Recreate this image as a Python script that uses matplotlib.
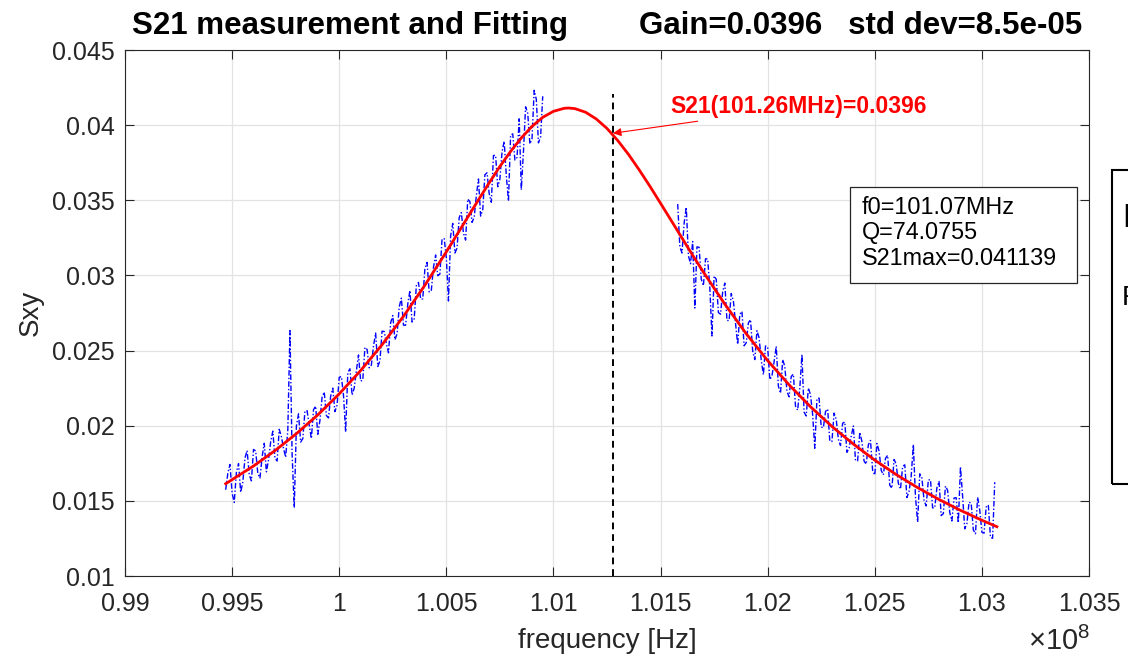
import numpy as np
import matplotlib
matplotlib.use("Agg")
import matplotlib.pyplot as plt
from matplotlib.patches import Rectangle

plt.rcParams['font.family'] = ['Liberation Sans', 'DejaVu Sans']
plt.rcParams['mathtext.fontset'] = 'custom'
plt.rcParams['mathtext.rm'] = 'Liberation Sans'

f_meas_left_start, f_meas_left_stop = 0.9947, 1.0095
f_meas_right_start, f_meas_right_stop = 1.0158, 1.0306
s_meas_left = [
    15.74, 16.83, 17.42, 15.51, 14.90, 16.89, 17.48, 15.57, 16.26, 17.85,
    18.35, 16.74, 16.33, 18.42, 18.32, 16.82, 16.52, 17.92, 18.83, 16.93,
    17.73, 18.93, 19.64, 17.84, 17.65, 19.76, 19.28, 18.49, 17.90, 19.71,
    26.33, 18.14, 14.55, 19.97, 20.79, 18.91, 19.14, 20.97, 21.00, 20.02,
    19.15, 21.07, 21.30, 19.43, 20.36, 21.90, 22.24, 20.68, 20.52, 21.96,
    22.50, 20.94, 21.38, 23.22, 23.27, 22.02, 19.58, 23.53, 23.79, 22.04,
    22.50, 23.65, 24.71, 22.97, 23.04, 25.21, 25.08, 23.85, 24.03, 25.30,
    26.17, 23.94, 24.31, 26.29, 26.27, 25.46, 24.85, 26.84, 27.33, 25.72,
    26.11, 27.90, 28.49, 26.69, 26.69, 28.09, 29.00, 26.90, 27.11, 29.32,
    29.53, 28.43, 28.44, 30.45, 30.87, 28.89, 29.02, 30.54, 31.36, 29.98,
    30.10, 32.42, 32.45, 31.17, 28.30, 32.63, 33.46, 31.49, 31.82, 33.85,
    34.18, 32.81, 32.35, 35.08, 34.91, 33.53, 33.86, 35.29, 36.42, 33.95,
    34.38, 36.70, 36.83, 35.45, 34.87, 37.98, 37.99, 35.90, 36.41, 38.22,
    38.93, 36.63, 34.94, 39.33, 39.42, 37.68, 37.85, 40.42, 35.69, 38.25,
    41.22, 40.78, 38.75, 39.08, 42.32, 41.72, 38.82, 39.22, 41.92,
]
s_meas_right = [
    34.75, 31.92, 31.49, 33.47, 34.54, 31.31, 30.78, 32.26, 27.83, 31.90,
    31.87, 29.75, 29.32, 31.11, 31.09, 29.18, 25.97, 29.96, 29.74, 27.53,
    27.42, 28.91, 29.49, 27.00, 27.00, 28.80, 28.30, 26.81, 25.41, 27.41,
    27.61, 25.32, 25.52, 26.84, 27.06, 24.98, 24.40, 26.33, 25.85, 24.37,
    23.39, 25.31, 25.23, 23.07, 23.31, 24.25, 25.29, 22.63, 22.16, 24.40,
    23.94, 22.28, 21.92, 23.28, 23.43, 21.29, 21.04, 22.49, 24.74, 20.90,
    20.65, 22.51, 22.06, 20.73, 18.50, 21.77, 21.84, 19.91, 19.87, 20.94,
    21.11, 18.98, 18.95, 20.84, 20.42, 19.10, 18.68, 20.17, 20.25, 18.23,
    18.51, 19.30, 19.98, 17.68, 17.67, 19.56, 18.95, 17.65, 17.44, 18.73,
    19.02, 17.02, 16.71, 18.82, 18.32, 17.03, 16.73, 17.83, 18.03, 16.04,
    15.84, 17.75, 17.45, 16.17, 15.78, 17.29, 17.40, 15.22, 15.63, 16.64,
    18.75, 15.27, 13.58, 16.80, 16.52, 15.04, 14.66, 16.39, 16.41, 14.53,
    14.55, 15.87, 16.29, 14.02, 14.15, 15.98, 15.70, 14.23, 13.66, 15.19,
    15.21, 13.54, 17.27, 15.31, 13.14, 13.48, 14.91, 14.84, 13.07, 12.81,
    15.24, 14.38, 12.91, 12.85, 14.59, 14.73, 12.57, 12.51, 16.24,
]

# Fitted curve
f_fit = [0.9947, 0.9960, 0.9970, 0.9980, 0.9990, 1.0000, 1.0010, 1.0020,
         1.0030, 1.0040, 1.0050, 1.0055, 1.0060, 1.0065, 1.0070, 1.0075,
         1.0080, 1.0085, 1.0090, 1.0095, 1.0100, 1.0105, 1.0107, 1.0110,
         1.0115, 1.0120, 1.0125, 1.0130, 1.0135, 1.0140, 1.0145, 1.0150,
         1.0155, 1.0160, 1.0165, 1.0170, 1.0180, 1.0190, 1.0200, 1.0210,
         1.0220, 1.0230, 1.0240, 1.0250, 1.0260, 1.0270, 1.0280, 1.0290,
         1.0300, 1.0307]
s_fit = [16.14, 17.32, 18.34, 19.47, 20.72, 22.12, 23.67, 25.39,
         27.28, 29.35, 31.57, 32.72, 33.88, 35.03, 36.16, 37.25,
         38.25, 39.15, 39.92, 40.52, 40.92, 41.12, 41.14, 41.10,
         40.86, 40.41, 39.78, 38.98, 38.06, 37.03, 35.94, 34.80,
         33.65, 32.49, 31.34, 30.22, 28.09, 26.12, 24.33, 22.72,
         21.26, 19.95, 18.78, 17.71, 16.75, 15.88, 15.09, 14.37,
         13.71, 13.28]

f_marker = 1.01278
marker_top = 0.0421
xticks = [0.99, 0.995, 1.0, 1.005, 1.01, 1.015, 1.02, 1.025, 1.03, 1.035]
xticklabels = ['0.99', '0.995', '1', '1.005', '1.01', '1.015', '1.02', '1.025', '1.03', '1.035']
yticks = [0.01, 0.015, 0.02, 0.025, 0.03, 0.035, 0.04, 0.045]
yticklabels = ['0.01', '0.015', '0.02', '0.025', '0.03', '0.035', '0.04', '0.045']
box_lines = ['f0=101.07MHz', 'Q=74.0755', 'S21max=0.041139']

W, H = 1128, 660
fig = plt.figure(figsize=(W / 100, H / 100), dpi=100)
ax = fig.add_axes([125 / W, 84 / H, 964 / W, 526 / H])

xl = np.linspace(f_meas_left_start, f_meas_left_stop, len(s_meas_left))
xr = np.linspace(f_meas_right_start, f_meas_right_stop, len(s_meas_right))
meas_style = dict(color='blue', ls=(0, (4, 1.5, 1, 1.5)), lw=1.0)
ax.plot(xl, np.array(s_meas_left) * 1e-3, **meas_style)
ax.plot(xr, np.array(s_meas_right) * 1e-3, **meas_style)
ax.plot(f_fit, np.array(s_fit) * 1e-3, color='red', lw=2.0)
ax.plot([f_marker, f_marker], [0.01, marker_top], color='black', ls=(0, (3.5, 2.5)), lw=1.4)

ax.annotate('S21(101.26MHz)=0.0396', xy=(f_marker, 0.03946), xytext=(1.01544, 0.04121),
            color='red', fontsize=16.5, fontweight='bold', ha='left', va='center',
            arrowprops=dict(arrowstyle='-|>', color='red', lw=0.8, mutation_scale=12,
                            shrinkA=0, shrinkB=0))

ax.set_xlim(0.99, 1.035)
ax.set_ylim(0.01, 0.045)
ax.set_xticks(xticks)
ax.set_xticklabels(xticklabels)
ax.set_yticks(yticks)
ax.set_yticklabels(yticklabels)
ax.tick_params(direction='in', length=6.5, width=0.8, labelsize=18, colors='#262626',
               top=True, right=True)
ax.tick_params(axis='x', pad=11.5)
ax.tick_params(axis='y', pad=7.5)
ax.grid(True, color='#e3e3e3', lw=0.9)
for sp in ax.spines.values():
    sp.set_color('#262626')
    sp.set_linewidth(0.8)
ax.set_xlabel('frequency [Hz]', fontsize=20, color='#262626', labelpad=9)
ax.set_ylabel('Sxy', fontsize=20, color='#262626', labelpad=6)

# parameter box
ax.add_patch(Rectangle((0.752, 0.557), 0.2356, 0.1825, transform=ax.transAxes,
                       facecolor='white', edgecolor='#262626', lw=0.9, zorder=5))
for k, line in enumerate(box_lines):
    fig.text(862 / W, 1 - (207 + 26 * k) / H, line, fontsize=16.8, ha='left', va='center',
             zorder=6)

# title
fig.text(132 / W, 1 - 34 / H, 'S21 measurement and Fitting', fontsize=22.5, fontweight='bold',
         ha='left', va='baseline')
fig.text(1082 / W, 1 - 34 / H, 'Gain=0.0396   std dev=8.5e-05', fontsize=22.5, fontweight='bold',
         ha='right', va='baseline')

# exponent label
fig.text(1090 / W, 1 - 650 / H, r'$\times10^{8}$', fontsize=21, color='#262626',
         ha='right', va='baseline')

# legend box cut off at right edge
fig.add_artist(Rectangle((1112 / W, 1 - 484 / H), 0.1, 314 / H, transform=fig.transFigure,
                         fill=False, edgecolor='black', lw=1.5))
fig.text(1122 / W, 1 - 227 / H, 'D', fontsize=24, ha='left', va='baseline')
fig.text(1122 / W, 1 - 305 / H, 'F', fontsize=20, ha='left', va='baseline')

fig.savefig('out.png', dpi=100)
